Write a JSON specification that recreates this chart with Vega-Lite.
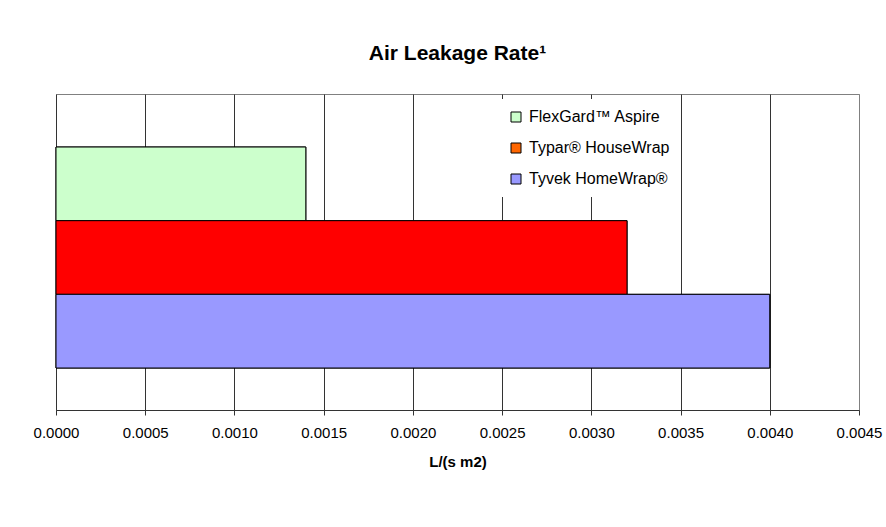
{
  "$schema": "https://vega.github.io/schema/vega-lite/v6.json",
  "width": 803,
  "height": 316,
  "autosize": {"type": "none"},
  "padding": {"left": 56, "top": 94, "right": 27, "bottom": 117},
  "background": "white",
  "title": {"text": "Air Leakage Rate¹", "fontSize": 21, "font": "Liberation Sans", "fontWeight": "bold", "color": "black", "anchor": "middle", "offset": 30},
  "data": {"values": [
    {"series": "FlexGard™ Aspire", "value": 0.0014},
    {"series": "Typar® HouseWrap", "value": 0.0032},
    {"series": "Tyvek HomeWrap®", "value": 0.0040}
  ]},
  "encoding": {
    "y": {"field": "series", "type": "nominal", "sort": ["FlexGard™ Aspire", "Typar® HouseWrap", "Tyvek HomeWrap®"], "scale": {"paddingInner": 0, "paddingOuter": 0.645, "align": 0.558}, "axis": null},
    "x": {"field": "value", "type": "quantitative", "title": "L/(s m2)", "scale": {"domain": [0, 0.0045], "nice": false, "zero": true},
      "axis": {
        "values": [0, 0.0005, 0.001, 0.0015, 0.002, 0.0025, 0.003, 0.0035, 0.004, 0.0045],
        "format": ".4f", "grid": true,
        "gridColor": {"condition": {"test": "datum.value >= 0.0045", "value": "#808080"}, "value": "#333333"},
        "gridWidth": 1, "gridOpacity": 1,
        "domainColor": "#333333", "tickColor": "#333333", "tickSize": 5,
        "labelFont": "Liberation Sans", "labelFontSize": 15, "labelColor": "black", "labelPadding": 10,
        "labelFlush": false, "labelOverlap": false,
        "titleFont": "Liberation Sans", "titleFontSize": 15, "titleFontWeight": "bold", "titleColor": "black", "titlePadding": 14
      }
    }
  },
  "layer": [
    {
      "mark": {"type": "bar", "stroke": "black", "strokeWidth": 1},
      "encoding": {
        "color": {"field": "series", "type": "nominal", "sort": ["FlexGard™ Aspire", "Typar® HouseWrap", "Tyvek HomeWrap®"],
          "scale": {"domain": ["FlexGard™ Aspire", "Typar® HouseWrap", "Tyvek HomeWrap®"], "range": ["#CCFFCC", "#FF6600", "#9999FF"]},
          "legend": {
            "title": null, "orient": "none", "legendX": 407, "legendY": 5,
            "padding": 10, "symbolOffset": 35, "fillColor": "white",
            "symbolType": "square", "symbolSize": 100, "symbolStrokeColor": "black", "symbolStrokeWidth": 1, "symbolOpacity": 1,
            "labelFont": "Liberation Sans", "labelFontSize": 16, "labelColor": "black", "labelOffset": 5, "rowPadding": 15, "labelLimit": 300
          }
        }
      }
    },
    {
      "mark": {"type": "bar", "stroke": "black", "strokeWidth": 1},
      "encoding": {
        "color": {"field": "series", "type": "nominal",
          "scale": {"domain": ["FlexGard™ Aspire", "Typar® HouseWrap", "Tyvek HomeWrap®"], "range": ["#CCFFCC", "#FF0000", "#9999FF"]},
          "legend": null
        }
      }
    }
  ],
  "resolve": {"scale": {"color": "independent"}},
  "config": {
    "font": "Liberation Sans",
    "view": {"stroke": "#808080", "strokeWidth": 1}
  }
}
